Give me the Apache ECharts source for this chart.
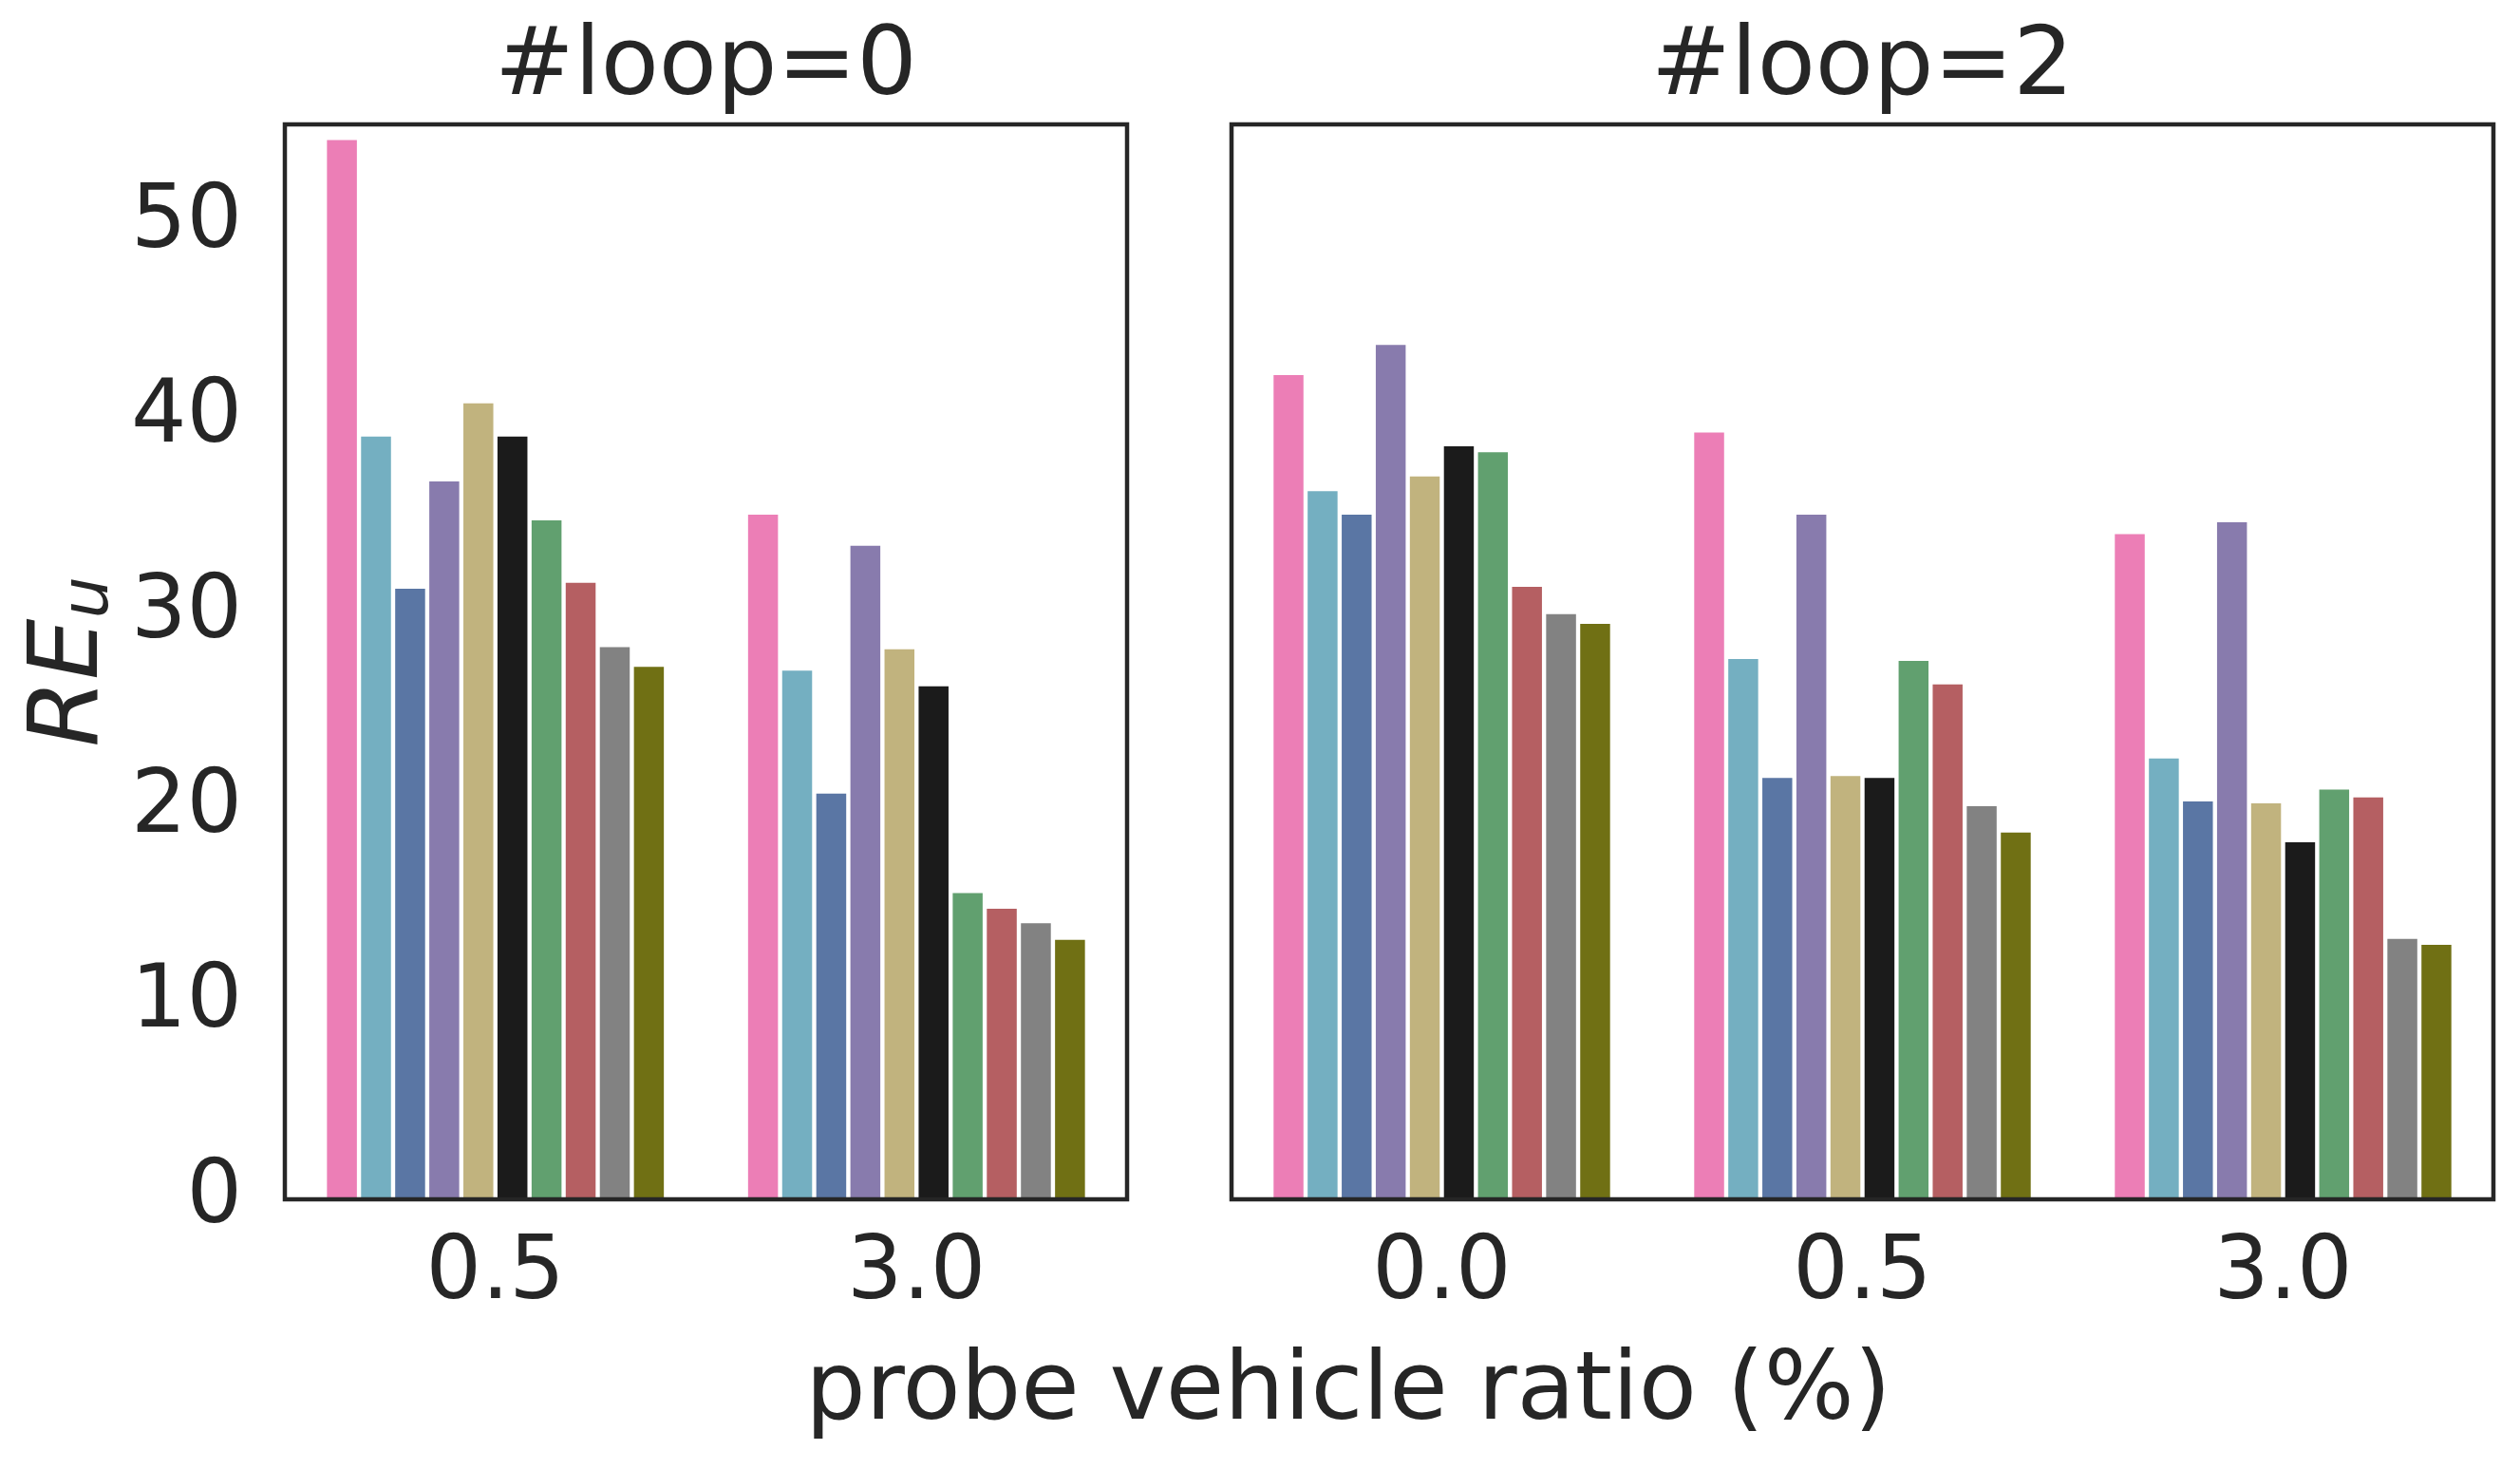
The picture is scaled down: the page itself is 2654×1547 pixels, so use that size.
<!DOCTYPE html>
<html>
<head>
<meta charset="utf-8">
<script src="https://cdn.jsdelivr.net/npm/echarts@6/dist/echarts.min.js"></script>
<style>
html,body{margin:0;padding:0;background:#fff;}
#chart{width:2654px;height:1547px;}
</style>
</head>
<body>
<div id="chart"></div>
<script>
// ---- data ----
const panelTitles = ['#loop=0', '#loop=2'];
const catsLoop0 = ['0.5', '3.0'];
const catsLoop2 = ['0.0', '0.5', '3.0'];
const seriesNames = ['S1','S2','S3','S4','S5','S6','S7','S8','S9','S10'];
const colors = ['#EC7EB6','#74AFC1','#5A76A4','#887BAD','#C1B37E','#1B1B1B','#61A06F','#B55F62','#828282','#707014'];
// values per category group, one per series (in series order)
const loop0_p05 = [54.3, 39.1, 31.3, 36.8, 40.8, 39.1, 34.8, 31.6, 28.3, 27.3];
const loop0_p30 = [35.1, 27.1, 20.8, 33.5, 28.2, 26.3, 15.7, 14.9, 14.15, 13.3];
const loop2_p00 = [42.25, 36.3, 35.1, 43.8, 37.05, 38.6, 38.3, 31.4, 30.0, 29.5];
const loop2_p05 = [39.3, 27.7, 21.6, 35.1, 21.7, 21.6, 27.6, 26.4, 20.15, 18.8];
const loop2_p30 = [34.1, 22.6, 20.4, 34.7, 20.3, 18.3, 21.0, 20.6, 13.35, 13.05];
const yTicks = [0, 10, 20, 30, 40, 50];
const yMax = 55.1;

// ---- chart ----
const FONT = 'DejaVu Sans';
const TXT = '#262626';
const chart = echarts.init(document.getElementById('chart'));

const grids = [
  {left: 300, top: 131, width: 887, height: 1132},
  {left: 1297, top: 131, width: 1329, height: 1132}
].map(g => Object.assign(g, {show: true, borderColor: TXT, borderWidth: 4.5, backgroundColor: 'transparent', z: 10, containLabel: false}));

const xCommon = {
  type: 'category',
  axisLine: {show: false},
  axisTick: {show: false},
  splitLine: {show: false},
  axisLabel: {fontFamily: FONT, fontSize: 92, color: TXT, margin: 34}
};
const yCommon = {
  type: 'value', min: 0, max: yMax, interval: 10,
  axisLine: {show: false}, axisTick: {show: false}, splitLine: {show: false}
};

const series = [];
seriesNames.forEach((name, i) => {
  series.push({
    name: name, type: 'bar', xAxisIndex: 0, yAxisIndex: 0,
    data: [loop0_p05[i], loop0_p30[i]],
    itemStyle: {color: colors[i]},
    barCategoryGap: '20%', barGap: '14%'
  });
});
seriesNames.forEach((name, i) => {
  series.push({
    name: name, type: 'bar', xAxisIndex: 1, yAxisIndex: 1,
    data: [loop2_p00[i], loop2_p05[i], loop2_p30[i]],
    itemStyle: {color: colors[i]},
    barCategoryGap: '20%', barGap: '14%'
  });
});

chart.setOption({
  animation: false,
  backgroundColor: '#ffffff',
  title: [
    {text: panelTitles[0], left: 300 + 887/2, top: 23, textAlign: 'center', padding: 0,
     textStyle: {fontFamily: FONT, fontSize: 100, fontWeight: 'normal', color: TXT}},
    {text: panelTitles[1], left: 1297 + 1329/2, top: 23, textAlign: 'center', padding: 0,
     textStyle: {fontFamily: FONT, fontSize: 100, fontWeight: 'normal', color: TXT}},
    {text: 'probe vehicle ratio (%)', left: 1420, top: 1418, textAlign: 'center', padding: 0,
     textStyle: {fontFamily: FONT, fontSize: 100, fontWeight: 'normal', color: TXT}}
  ],
  grid: grids,
  xAxis: [
    Object.assign({gridIndex: 0, data: catsLoop0}, xCommon),
    Object.assign({gridIndex: 1, data: catsLoop2}, xCommon)
  ],
  yAxis: [
    Object.assign({gridIndex: 0,
      axisLabel: {fontFamily: FONT, fontSize: 92, color: TXT, margin: 45, showMaxLabel: false,
        padding: [14, 0, 0, 0],
        formatter: v => (yTicks.indexOf(v) >= 0 ? String(v) : '')},
      name: '{a|RE}{b|u}', nameLocation: 'middle', nameGap: 170, nameRotate: 90,
      nameTextStyle: {rich: {
        a: {fontFamily: FONT, fontStyle: 'italic', fontSize: 102, color: TXT, lineHeight: 110},
        b: {fontFamily: FONT, fontStyle: 'italic', fontSize: 70, color: TXT, lineHeight: 58, verticalAlign: 'bottom'}
      }}
    }, yCommon),
    Object.assign({gridIndex: 1, axisLabel: {show: false}}, yCommon)
  ],
  series: series
});
</script>
</body>
</html>
